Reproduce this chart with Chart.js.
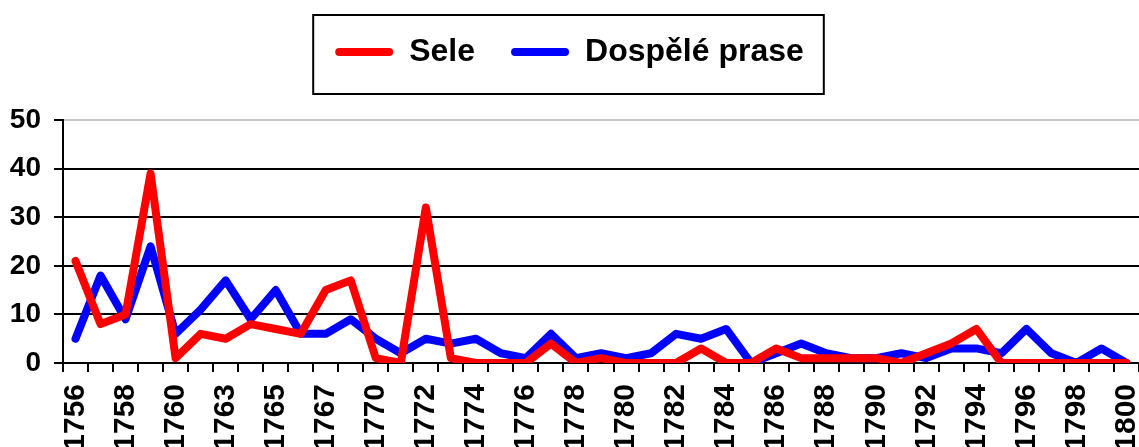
<!DOCTYPE html>
<html lang="cs">
<head>
<meta charset="UTF-8">
<title>Sele / Dospělé prase</title>
<script src="https://cdn.jsdelivr.net/npm/chart.js@4/dist/chart.umd.min.js"></script>
<style>
  html, body { margin: 0; padding: 0; background: #fff; overflow: hidden; }
  .wrap { position: relative; width: 1139px; height: 480px; }
</style>
</head>
<body>
<div class="wrap"><canvas id="graf"></canvas></div>
<script>
// roky (popisky osy x) - zobrazen je každý druhý
const roky = ['1756','1757','1758','1759','1760','1762','1763','1764','1765','1766','1767','1769',
  '1770','1771','1772','1773','1774','1775','1776','1777','1778','1779','1780','1781','1782','1783',
  '1784','1785','1786','1787','1788','1789','1790','1791','1792','1793','1794','1795','1796','1797',
  '1798','1799','1800'];

const sele = [21, 8, 10, 39, 1, 6, 5, 8, 7, 6, 15, 17,
  1, 0, 32, 1, 0, 0, 0, 4, 0, 1, 0, 0, 0, 3,
  0, 0, 3, 1, 1, 1, 1, 0, 2, 4, 7, 0, 0, 0,
  0, 0, 0];

const dospelePrase = [5, 18, 9, 24, 6, 11, 17, 9, 15, 6, 6, 9,
  5, 2, 5, 4, 5, 2, 1, 6, 1, 2, 1, 2, 6, 5,
  7, 0, 2, 4, 2, 1, 1, 2, 1, 3, 3, 2, 7, 2,
  0, 3, 0];

const osaY = { min: 0, max: 50, krok: 10 };

// rámeček kolem legendy + pevná výška legendy
const legendaRamecek = {
  id: 'legendaRamecek',
  beforeLayout(chart) {
    const lg = chart.legend;
    if (lg && !lg._upraveno) {
      const puvodniFit = lg.fit;
      lg.fit = function () {
        puvodniFit.call(this);
        this.height = 120;
      };
      lg._upraveno = true;
    }
  },
  afterDraw(chart) {
    const boxy = chart.legend && chart.legend.legendHitBoxes;
    if (!boxy || !boxy.length) return;
    const prvni = boxy[0];
    const posledni = boxy[boxy.length - 1];
    const ctx = chart.ctx;
    ctx.save();
    ctx.strokeStyle = '#000';
    ctx.lineWidth = 2;
    const l = prvni.left - 22;
    const t = prvni.top - 21;
    const r = posledni.left + posledni.width + 20;
    const b = prvni.top + prvni.height + 26;
    ctx.strokeRect(l, t, r - l, b - t);
    ctx.restore();
  }
};

const spolecne = {
  borderWidth: 8,
  pointRadius: 0,
  tension: 0,
  borderJoinStyle: 'round',
  borderCapStyle: 'round',
  clip: 0
};

const pismo = 'Liberation Sans, Arial, sans-serif';

new Chart(document.getElementById('graf'), {
  type: 'line',
  data: {
    labels: roky,
    datasets: [
      Object.assign({ label: 'Sele', data: sele, borderColor: '#ff0000', backgroundColor: '#ff0000' }, spolecne),
      Object.assign({ label: 'Dospělé prase', data: dospelePrase, borderColor: '#0000ff', backgroundColor: '#0000ff' }, spolecne)
    ]
  },
  options: {
    responsive: true,
    maintainAspectRatio: false,
    animation: false,
    layout: { padding: 0 },
    plugins: {
      tooltip: { enabled: false },
      legend: {
        position: 'top',
        labels: {
          color: '#000',
          font: { family: pismo, weight: 'bold', size: 32 },
          boxWidth: 58,
          boxHeight: 8,
          padding: 36,
          useBorderRadius: true,
          borderRadius: 4,
          generateLabels: (chart) => chart.data.datasets.map((ds, i) => ({
            text: ds.label,
            fillStyle: ds.borderColor,
            strokeStyle: ds.borderColor,
            lineWidth: 0,
            borderRadius: 4,
            fontColor: '#000',
            hidden: false,
            datasetIndex: i
          }))
        }
      }
    },
    scales: {
      x: {
        offset: true,
        grid: {
          offset: true,
          drawOnChartArea: false,
          drawTicks: true,
          tickLength: 9,
          lineWidth: 2,
          tickWidth: 2,
          tickColor: '#000'
        },
        border: { color: '#000', width: 2 },
        ticks: {
          autoSkip: false,
          maxRotation: 90,
          minRotation: 90,
          padding: 12,
          color: '#000',
          font: { family: pismo, weight: 'bold', size: 30 },
          callback: function (v, i) { return i % 2 === 0 ? this.getLabelForValue(v) : ''; }
        },
        afterFit(s) {
          s.height = 480 - 363;
          s.paddingRight = 0;
          s.paddingLeft = 0;
        }
      },
      y: {
        min: osaY.min,
        max: osaY.max,
        grid: {
          color: (c) => (c.tick && c.tick.value === osaY.max ? '#c8c8c8' : '#000'),
          lineWidth: 2,
          tickLength: 9,
          tickWidth: 2,
          tickColor: '#000'
        },
        border: { color: '#000', width: 2 },
        ticks: {
          stepSize: osaY.krok,
          padding: 13,
          color: '#000',
          font: { family: pismo, weight: 'bold', size: 28 }
        },
        afterFit(s) { s.width = 63; }
      }
    }
  },
  plugins: [legendaRamecek]
});
</script>
</body>
</html>
